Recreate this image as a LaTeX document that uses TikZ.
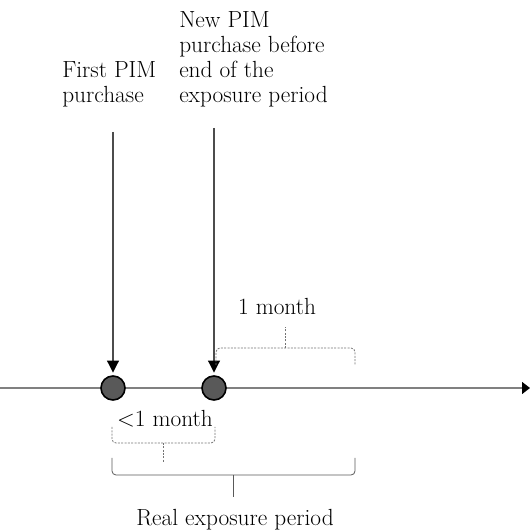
\documentclass[tikz,border=0pt]{standalone}
\usetikzlibrary{arrows.meta}
\begin{document}
\begin{tikzpicture}[x=0.75pt,y=0.75pt,
  lbl/.style={inner sep=0pt,align=left,font=\fontsize{17.5}{18.75}\selectfont},
  event/.style={circle,draw=black,line width=1.2pt,fill=black!65,minimum size=18pt,inner sep=0pt},
  bracket/.style={rounded corners=3pt,line width=0.6pt},
  dotbracket/.style={bracket,black!55,dash pattern=on 1.5pt off 1pt},
  marker/.style={draw=black!70,line width=0.8pt,-{Triangle[width=9pt,length=9pt,color=black]},shorten >=2pt}]
\useasboundingbox (0,0) rectangle (530,532);
% time axis
\coordinate (start) at (0,144);
\coordinate (end) at (530,144);
\draw[black!50,line width=1pt,-{Triangle[width=9pt,length=6pt,color=black]}] (start) -- (end);
\node[event] (E1) at (113,144) {};
\node[event] (E2) at (214,144) {};
% purchases
\node[lbl,anchor=north west] (first) at (62,471) {First PIM\\purchase};
\node[lbl,anchor=north west] (new) at (179,521) {New PIM\\purchase before\\end of the\\exposure period};
\coordinate (firsttop) at (113,400);
\coordinate (newtop) at (214,404);
\draw[marker] (firsttop) -- (E1);
\draw[marker] (newtop) -- (E2);
% periods
\node[lbl] (onemonth) at (277,226) {1 month};
\draw[dotbracket] (216,167) -- (216,184) -- (355,184) -- (355,167);
\draw[dotbracket] (285,184) -- (285,205);
\node[lbl] (lessmonth) at (165,113) {\textless1 month};
\draw[dotbracket] (112,105) -- (112,89) -- (215,89) -- (215,105);
\draw[dotbracket] (163,89) -- (163,69);
\draw[bracket,black!65] (112,74) -- (112,57) -- (355,57) -- (355,74);
\draw[bracket,black!65] (233,57) -- (233,35);
\node[lbl] (real) at (235,12) {Real exposure period};
\end{tikzpicture}
\end{document}
